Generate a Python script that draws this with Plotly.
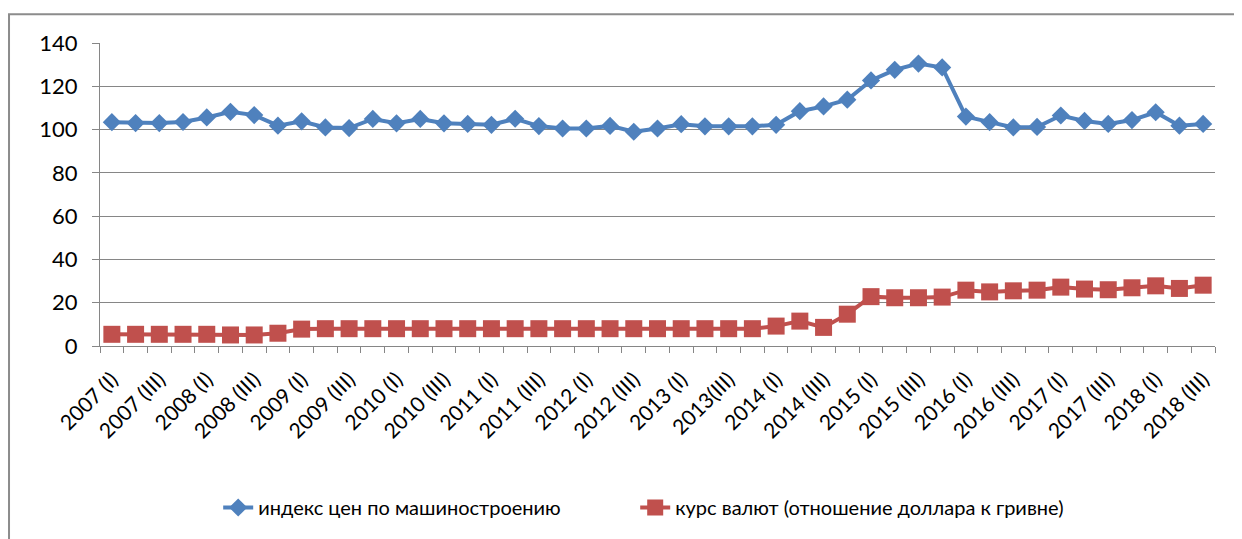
import plotly.graph_objects as go

# quarters 2007 (I) .. 2018 (III)
quarters = []
for yr in range(2007, 2019):
    for q in ["I", "II", "III", "IV"]:
        quarters.append("%d (%s)" % (yr, q))
quarters = quarters[:47]
quarters[quarters.index("2013 (III)")] = "2013(III)"

# индекс цен по машиностроению
price_index = [103.4, 103.0, 103.0, 103.5, 105.6, 108.2, 106.7, 101.8, 103.8, 101.0,
               100.7, 104.9, 102.9, 104.9, 102.9, 102.6, 102.2, 105.0, 101.6, 100.5,
               100.5, 101.7, 99.0, 100.5, 102.5, 101.5, 101.5, 101.5, 102.2, 108.5,
               110.7, 113.8, 122.7, 127.6, 130.5, 128.7, 106.0, 103.4, 101.0, 101.2,
               106.5, 104.0, 102.6, 104.4, 108.0, 101.8, 102.6]

# курс валют (отношение доллара к гривне)
fx_rate = [5.4, 5.4, 5.4, 5.4, 5.4, 5.1, 5.1, 5.9, 7.8, 8.0,
           8.0, 8.0, 8.0, 8.0, 8.0, 8.0, 8.0, 8.0, 8.0, 8.0,
           8.0, 8.0, 8.0, 8.0, 8.0, 8.0, 8.0, 8.0, 9.2, 11.5,
           8.6, 14.7, 22.8, 22.3, 22.3, 22.6, 25.8, 25.0, 25.5, 25.8,
           27.2, 26.3, 26.0, 26.9, 27.8, 26.6, 28.1]

idx = list(range(len(quarters)))
font = "Lato, 'Liberation Sans', sans-serif"

fig = go.Figure()
fig.add_trace(go.Scatter(
    x=idx, y=price_index, mode="lines+markers",
    name="индекс цен по машиностроению",
    line=dict(color="#4F81BD", width=4),
    marker=dict(symbol="diamond", size=14, color="#4F81BD"),
    legend="legend"))
fig.add_trace(go.Scatter(
    x=idx, y=fx_rate, mode="lines+markers",
    name="курс валют (отношение доллара к гривне)",
    line=dict(color="#C0504D", width=4),
    marker=dict(symbol="square", size=17, color="#C0504D"),
    legend="legend2"))

fig.update_xaxes(
    range=[-0.5, len(idx) - 0.5],
    tickvals=idx[::2], ticktext=quarters[::2], tickangle=-45,
    ticks="", showgrid=False, zeroline=False,
    showline=True, linecolor="#868686", linewidth=1,
    minor=dict(tickvals=[i - 0.5 for i in idx] + [idx[-1] + 0.5],
               ticks="outside", ticklen=6, tickcolor="#868686", showgrid=False),
    ticklabelstandoff=12,
    tickfont=dict(size=21, color="#000000"))
fig.update_yaxes(
    range=[0, 140], dtick=20, showgrid=True, gridcolor="#868686", gridwidth=1,
    zeroline=False, showline=True, linecolor="#868686", linewidth=1,
    ticks="outside", ticklen=7, tickcolor="#868686",
    ticklabelstandoff=10,
    tickfont=dict(size=22, color="#000000"))

# page body adds an 8px offset, so the figure is 8px smaller than the window
fig.update_layout(
    width=1234, height=531,
    margin=dict(l=92, r=27, t=35, b=191),
    paper_bgcolor="white", plot_bgcolor="white",
    font=dict(family=font, color="#000000"),
    showlegend=True,
    legend=dict(orientation="h", x=0.106, xanchor="left", y=-0.533, yanchor="middle",
                font=dict(size=20)),
    legend2=dict(orientation="h", x=0.480, xanchor="left", y=-0.533, yanchor="middle",
                 font=dict(size=20)),
    shapes=[dict(type="rect", xref="paper", yref="paper",
                 x0=-0.0816, x1=1.2, y0=-1.0, y1=1.095,
                 line=dict(color="#8C8C8C", width=2), layer="below")])

fig.write_html("out.html")
